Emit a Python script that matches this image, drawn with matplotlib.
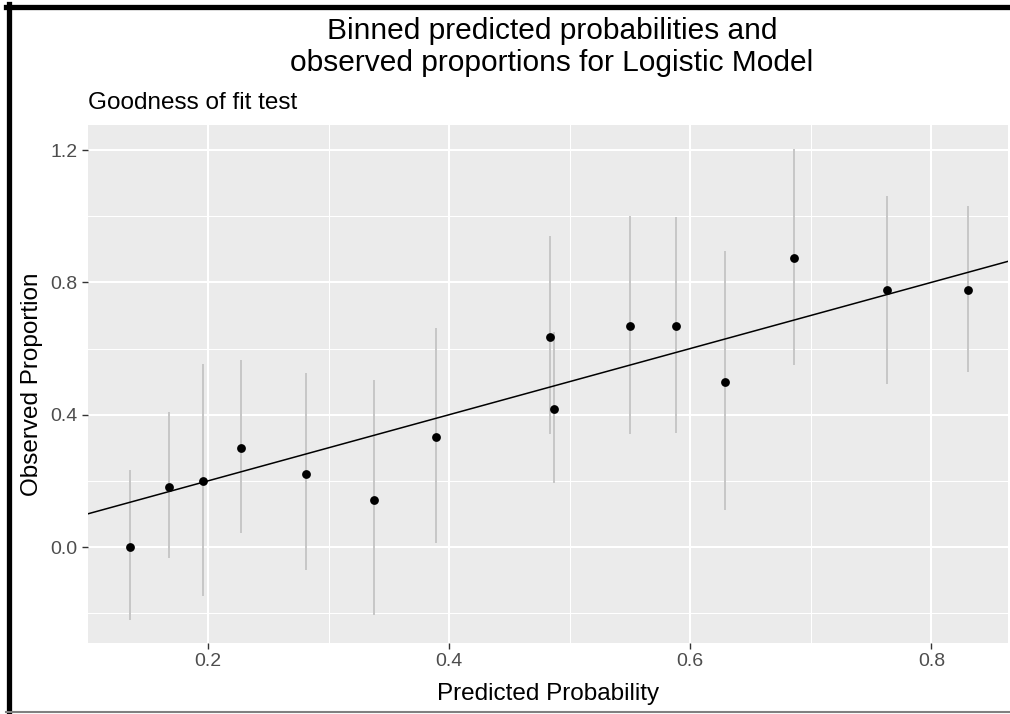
import matplotlib
matplotlib.use("Agg")
import matplotlib.pyplot as plt
from matplotlib.lines import Line2D

plt.rcParams['font.family'] = ['Liberation Sans', 'DejaVu Sans']

# Data
pred_prob = [0.135, 0.168, 0.196, 0.227, 0.281, 0.338, 0.389, 0.484, 0.487,
             0.550, 0.588, 0.629, 0.686, 0.763, 0.830]
obs_prop = [0.000, 0.182, 0.200, 0.300, 0.222, 0.143, 0.333, 0.636, 0.417,
            0.667, 0.667, 0.500, 0.875, 0.778, 0.778]
err_low = [-0.221, -0.034, -0.148, 0.041, -0.070, -0.206, 0.012, 0.341, 0.194,
           0.341, 0.346, 0.112, 0.550, 0.494, 0.530]
err_high = [0.233, 0.409, 0.554, 0.565, 0.526, 0.505, 0.662, 0.940, 0.650,
            1.000, 0.997, 0.895, 1.202, 1.061, 1.031]
x_ticks = [0.2, 0.4, 0.6, 0.8]
y_ticks = [0.0, 0.4, 0.8, 1.2]

W, H = 1010, 714
fig = plt.figure(figsize=(W / 100, H / 100), dpi=100)
fig.patch.set_facecolor('white')

left, right, top, bottom = 88, 1008, 125, 643
ax = fig.add_axes([left / W, 1 - bottom / H, (right - left) / W, (bottom - top) / H])
ax.set_facecolor('#EBEBEB')
for s in ax.spines.values():
    s.set_visible(False)

ax.set_xlim(0.1005, 0.8635)
ax.set_ylim(-0.290, 1.2756)
ax.set_xticks(x_ticks)
ax.set_xticklabels([f"{v:.1f}" for v in x_ticks])
ax.set_yticks(y_ticks)
ax.set_yticklabels([f"{v:.1f}" for v in y_ticks])
ax.set_xticks([0.3, 0.5, 0.7], minor=True)
ax.set_yticks([-0.2, 0.2, 0.6, 1.0], minor=True)

ax.grid(which='major', color='white', linewidth=1.5)
ax.grid(which='minor', color='white', linewidth=0.75)
ax.set_axisbelow(True)
ax.tick_params(which='major', length=4.5, width=1, color='#333333',
               labelsize=14, labelcolor='#4D4D4D', pad=3)
ax.tick_params(which='minor', length=0)

ax.vlines(pred_prob, err_low, err_high, colors='#C6C6C6', linewidth=1.4, zorder=2)
ax.axline((0, 0), slope=1, color='black', linewidth=1.1, zorder=3)
ax.scatter(pred_prob, obs_prop, s=40, color='black', zorder=4, linewidths=0)

ax.set_xlabel('Predicted Probability', fontsize=17.5, color='black', labelpad=9)
ax.set_ylabel('Observed Proportion', fontsize=17.5, color='black', labelpad=5)

fig.text(552 / W, 1 - 47 / H, 'Binned predicted probabilities and\nobserved proportions for Logistic Model',
         ha='center', va='center', fontsize=21.5, linespacing=1.22)
fig.text(left / W, 1 - 103 / H, 'Goodness of fit test', ha='left', va='center',
         fontsize=17.5)

# outer frame as in the screenshot
fig.add_artist(Line2D([8.5 / W, 8.5 / W], [1 - 4 / H, 1 - 712 / H], color='black',
                      linewidth=3.8, transform=fig.transFigure))
fig.add_artist(Line2D([6 / W, 1.0], [1 - 6.5 / H, 1 - 6.5 / H], color='black',
                      linewidth=3.8, transform=fig.transFigure))
fig.add_artist(Line2D([6 / W, 1.0], [1 - 712 / H, 1 - 712 / H], color='#808080',
                      linewidth=1.5, transform=fig.transFigure))

fig.savefig('out.png', dpi=100)
